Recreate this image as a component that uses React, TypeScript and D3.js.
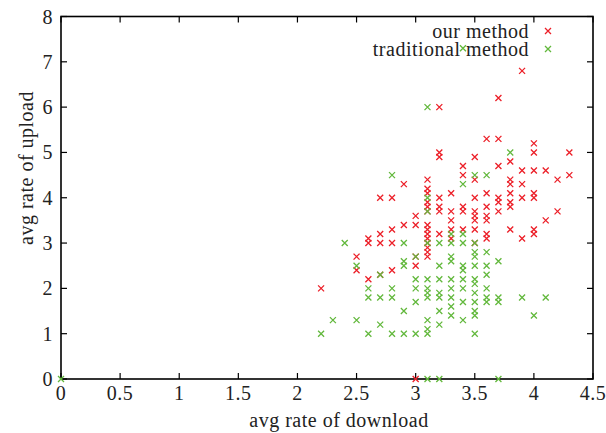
import React from 'react';
import * as d3 from 'd3';

// [avg rate of download, avg rate of upload]
const ourMethod: [number, number][] = [
  [2.2, 2.0],
  [2.5, 2.7], [2.5, 2.4],
  [2.6, 3.1], [2.6, 3.0], [2.6, 2.2],
  [2.7, 4.0], [2.7, 3.2], [2.7, 3.0], [2.7, 2.3],
  [2.8, 4.0], [2.8, 3.3], [2.8, 3.0], [2.8, 2.4],
  [2.9, 4.3], [2.9, 3.4],
  [3.0, 3.6], [3.0, 3.4], [3.0, 2.7], [3.0, 2.5], [3.0, 0],
  [3.1, 4.4], [3.1, 4.2], [3.1, 4.1], [3.1, 3.9], [3.1, 3.8], [3.1, 3.7], [3.1, 3.4],
  [3.1, 3.3], [3.1, 3.2], [3.1, 3.1], [3.1, 3.0], [3.1, 2.9], [3.1, 2.8], [3.1, 2.7],
  [3.2, 6.0], [3.2, 5.0], [3.2, 4.9], [3.2, 4.0], [3.2, 3.8], [3.2, 3.7], [3.2, 3.2],
  [3.3, 4.1], [3.3, 3.7], [3.3, 3.5], [3.3, 3.3], [3.3, 3.1],
  [3.4, 4.7], [3.4, 4.5], [3.4, 3.8], [3.4, 3.7], [3.4, 3.3],
  [3.5, 4.9], [3.5, 4.4], [3.5, 4.0], [3.5, 3.7], [3.5, 3.6], [3.5, 3.5], [3.5, 3.3], [3.5, 3.0],
  [3.6, 5.3], [3.6, 4.1], [3.6, 3.8], [3.6, 3.6], [3.6, 3.5], [3.6, 3.2], [3.6, 3.1],
  [3.7, 6.2], [3.7, 5.3], [3.7, 4.7], [3.7, 4.0], [3.7, 3.9], [3.7, 3.7],
  [3.8, 4.8], [3.8, 4.4], [3.8, 4.3], [3.8, 4.1], [3.8, 3.9], [3.8, 3.8], [3.8, 3.3],
  [3.9, 6.8], [3.9, 4.6], [3.9, 4.3], [3.9, 4.0], [3.9, 3.1],
  [4.0, 5.2], [4.0, 5.0], [4.0, 4.6], [4.0, 4.1], [4.0, 4.0], [4.0, 3.3], [4.0, 3.2],
  [4.1, 4.6], [4.1, 3.5],
  [4.2, 4.4], [4.2, 3.7],
  [4.3, 5.0], [4.3, 4.5],
];

const traditionalMethod: [number, number][] = [
  [0, 0],
  [2.2, 1.0],
  [2.3, 1.3],
  [2.4, 3.0],
  [2.5, 2.5], [2.5, 1.3],
  [2.6, 2.0], [2.6, 1.8], [2.6, 1.0],
  [2.7, 2.3], [2.7, 1.8], [2.7, 1.2],
  [2.8, 4.5], [2.8, 2.0], [2.8, 1.8], [2.8, 1.0],
  [2.9, 3.0], [2.9, 2.6], [2.9, 2.5], [2.9, 1.5], [2.9, 1.0],
  [3.0, 2.7], [3.0, 2.2], [3.0, 2.0], [3.0, 1.7], [3.0, 1.0],
  [3.1, 6.0], [3.1, 4.0], [3.1, 3.7], [3.1, 3.0], [3.1, 2.2], [3.1, 2.0], [3.1, 1.9],
  [3.1, 1.8], [3.1, 1.3], [3.1, 1.1], [3.1, 1.0], [3.1, 0],
  [3.2, 3.0], [3.2, 2.5], [3.2, 2.2], [3.2, 1.9], [3.2, 1.8], [3.2, 1.5], [3.2, 1.2], [3.2, 0],
  [3.3, 3.2], [3.3, 3.0], [3.3, 2.7], [3.3, 2.6], [3.3, 2.2], [3.3, 2.0], [3.3, 1.8], [3.3, 1.6], [3.3, 1.4],
  [3.4, 7.3], [3.4, 4.3], [3.4, 3.2], [3.4, 3.0], [3.4, 2.5], [3.4, 2.4], [3.4, 2.2], [3.4, 2.0], [3.4, 1.7], [3.4, 1.3],
  [3.5, 4.5], [3.5, 3.0], [3.5, 2.8], [3.5, 2.7], [3.5, 2.5], [3.5, 2.2], [3.5, 2.1], [3.5, 1.9],
  [3.5, 1.7], [3.5, 1.5], [3.5, 1.4], [3.5, 1.0],
  [3.6, 4.5], [3.6, 2.8], [3.6, 2.5], [3.6, 2.3], [3.6, 2.0], [3.6, 1.8], [3.6, 1.7],
  [3.7, 2.6], [3.7, 1.8], [3.7, 1.7], [3.7, 0],
  [3.8, 5.0],
  [3.9, 1.8],
  [4.0, 1.4],
  [4.1, 1.8],
];

const xTicks = [0, 0.5, 1, 1.5, 2, 2.5, 3, 3.5, 4, 4.5];
const yTicks = [0, 1, 2, 3, 4, 5, 6, 7, 8];
const seriesNames = ['our method', 'traditional method'];
const seriesColors = ['#ec1f28', '#62b83c'];

const W = 606, H = 433;
const margin = { left: 61, right: 13, top: 16.5, bottom: 54 };
const FONT = '"Liberation Serif", serif';
const FS = 20;
const LS = 0.5;

function Cross({ x, y, color }: { x: number; y: number; color: string }) {
  const s = 3;
  return (
    <path d={`M${x - s},${y - s}L${x + s},${y + s}M${x - s},${y + s}L${x + s},${y - s}`}
      stroke={color} strokeWidth={1.3} fill="none" />
  );
}

export default function App() {
  const x = d3.scaleLinear().domain([0, 4.5]).range([margin.left, W - margin.right]);
  const y = d3.scaleLinear().domain([0, 8]).range([H - margin.bottom, margin.top]);
  const [x0, x1] = x.range();
  const [y0, y1] = y.range();
  const tick = 6;

  return (
    <svg width={W} height={H} style={{ position: 'absolute', left: 0, top: 0 }}
      fontFamily={FONT} fill="#222" fontSize={FS} letterSpacing={LS}>
      <rect width={W} height={H} fill="#fff" />
      {xTicks.map(t => (
        <g key={'x' + t}>
          <line x1={x(t)} x2={x(t)} y1={y0} y2={y0 - tick} stroke="#000" strokeWidth={1.2} />
          <line x1={x(t)} x2={x(t)} y1={y1} y2={y1 + tick} stroke="#000" strokeWidth={1.2} />
          <text x={x(t)} y={y0 + 21} textAnchor="middle">{t}</text>
        </g>
      ))}
      {yTicks.map(t => (
        <g key={'y' + t}>
          <line x1={x0} x2={x0 + tick} y1={y(t)} y2={y(t)} stroke="#000" strokeWidth={1.2} />
          <line x1={x1} x2={x1 - tick} y1={y(t)} y2={y(t)} stroke="#000" strokeWidth={1.2} />
          <text x={x0 - 8} y={y(t)} dy="0.35em" textAnchor="end">{t}</text>
        </g>
      ))}
      <rect x={x0} y={y1} width={x1 - x0} height={y0 - y1} fill="none" stroke="#000" strokeWidth={1.6} />
      <text x={339} y={H - 6} textAnchor="middle">avg rate of download</text>
      <text transform={`translate(33,168) rotate(-90)`} textAnchor="middle">avg rate of upload</text>

      {ourMethod.map((d, i) => (
        <Cross key={'o' + i} x={x(d[0])} y={y(d[1])} color={seriesColors[0]} />
      ))}
      {traditionalMethod.map((d, i) => (
        <Cross key={'t' + i} x={x(d[0])} y={y(d[1])} color={seriesColors[1]} />
      ))}

      {seriesNames.map((name, i) => (
        <g key={name}>
          <text x={529} y={31 + i * 18} dy="0.33em" textAnchor="end">{name}</text>
          <Cross x={548} y={31 + i * 18} color={seriesColors[i]} />
        </g>
      ))}
    </svg>
  );
}
